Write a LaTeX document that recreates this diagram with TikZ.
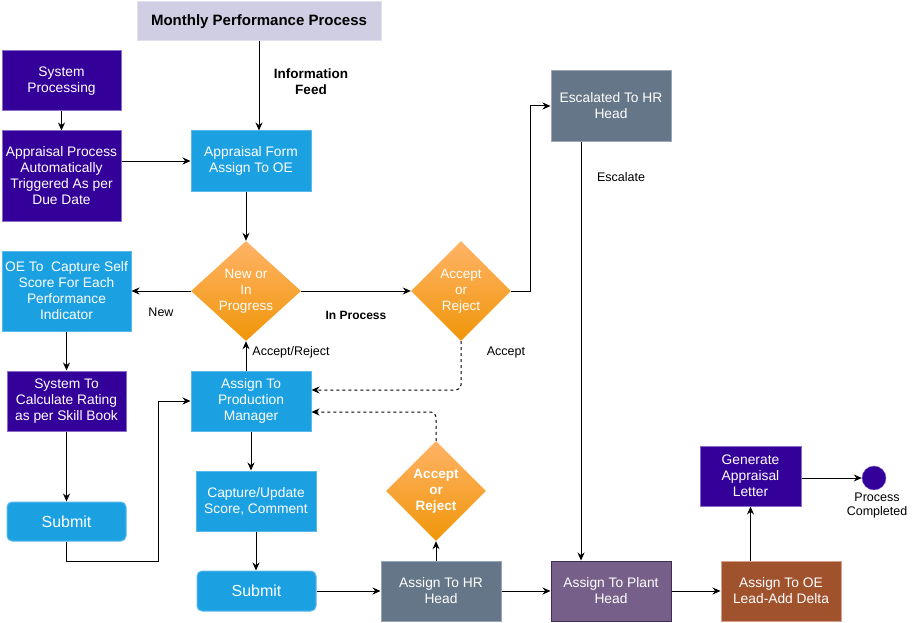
\documentclass[tikz,border=0pt]{standalone}
\usepackage{fontspec}
\setmainfont{Liberation Sans}
\usepackage{tikz}
\usetikzlibrary{shapes.geometric,arrows.meta}

\definecolor{indigoFill}{HTML}{330099}
\definecolor{indigoLine}{HTML}{8A6BC9}
\definecolor{blueFill}{HTML}{1BA1E2}
\definecolor{blueLine}{HTML}{5BB8EA}
\definecolor{slateFill}{HTML}{647687}
\definecolor{slateLine}{HTML}{9AA6B3}
\definecolor{plumFill}{HTML}{76608A}
\definecolor{plumLine}{HTML}{432D57}
\definecolor{siennaFill}{HTML}{A0522D}
\definecolor{siennaLine}{HTML}{D8A08C}
\definecolor{lilacFill}{HTML}{D0CEE2}
\definecolor{lilacLine}{HTML}{E2E0EE}
\definecolor{orangeTop}{HTML}{FFB366}
\definecolor{orangeBot}{HTML}{F09609}

\tikzset{
  box/.style={draw, line width=1pt, inner sep=0pt, align=center, text=white,
    font=\fontsize{13.8}{16}\selectfont},
  indigobox/.style={box, fill=indigoFill, draw=indigoLine},
  bluebox/.style={box, fill=blueFill, draw=blueLine},
  slatebox/.style={box, fill=slateFill, draw=slateLine},
  submitbox/.style={bluebox, rounded corners=5pt, font=\fontsize{16}{19}\selectfont},
  decision/.style={diamond, inner sep=0pt, minimum width=100pt, minimum height=100pt,
    top color=orangeTop, bottom color=orangeBot, draw=none, align=center, text=white,
    font=\fontsize{13.5}{16}\selectfont},
  edgelabel/.style={font=\fontsize{12.5}{15}\selectfont, align=center},
  flow/.style={draw, line width=1pt, -{Stealth[length=8pt,width=7pt]}},
}

\begin{document}
\begin{tikzpicture}[x=1pt, y=-1pt]
  \useasboundingbox (0,0) rectangle (915,623);

  % top row
  \node[box, fill=lilacFill, draw=lilacLine, text=black, minimum width=244pt, minimum height=39pt,
    font=\bfseries\fontsize{15}{18}\selectfont] (mpp) at (259,21.5) {Monthly Performance Process};
  \node[indigobox, minimum width=119pt, minimum height=60pt] (sp) at (61.5,81) {System\\Processing};
  \node[indigobox, minimum width=119pt, minimum height=90pt] (apt) at (61.5,176) {Appraisal Process\\Automatically\\Triggered As per\\Due Date};
  \node[bluebox, minimum width=120pt, minimum height=60pt] (af) at (251,161) {Appraisal Form\\Assign To OE};
  \node[slatebox, minimum width=120pt, minimum height=70pt] (esc) at (611,106) {Escalated To HR\\Head};

  % decisions
  \node[decision, minimum width=110pt] (nip) at (246,291) {New or\\In\\Progress};
  \node[decision] (ar1) at (461,291) {Accept\\or\\Reject};
  \node[decision, font=\bfseries\fontsize{13.5}{16}\selectfont] (ar2) at (436,491) {Accept\\or\\Reject};

  % left column
  \node[bluebox, minimum width=129pt, minimum height=80pt] (oe) at (66.5,291) {OE To~ Capture Self\\Score For Each\\Performance\\Indicator};
  \node[indigobox, minimum width=119pt, minimum height=60pt] (calc) at (66.5,401) {System To\\Calculate Rating\\as per Skill Book};
  \node[submitbox, minimum width=119pt, minimum height=39pt] (s1) at (66.5,521.5) {Submit};

  % middle column
  \node[bluebox, minimum width=120pt, minimum height=60pt] (pm) at (251,401) {Assign To\\Production\\Manager};
  \node[bluebox, minimum width=120pt, minimum height=60pt] (cap) at (256,501) {Capture/Update\\Score, Comment};
  \node[submitbox, minimum width=119pt, minimum height=40pt] (s2) at (256.5,591) {Submit};

  % bottom row
  \node[slatebox, minimum width=120pt, minimum height=60pt] (hr) at (441,591) {Assign To HR\\Head};
  \node[box, fill=plumFill, draw=plumLine, minimum width=120pt, minimum height=60pt] (plant) at (611,591) {Assign To Plant\\Head};
  \node[box, fill=siennaFill, draw=siennaLine, minimum width=120pt, minimum height=60pt] (lead) at (781,591) {Assign To OE\\Lead-Add Delta};
  \node[indigobox, minimum width=101pt, minimum height=60pt] (gen) at (750.5,476) {Generate\\Appraisal\\Letter};
  \node[circle, fill=indigoFill, draw=indigoLine, minimum size=24pt, inner sep=0pt] (done) at (874,478) {};
  \node[edgelabel, font=\fontsize{12.5}{14}\selectfont, below=-1pt] (donelbl) at ([xshift=3pt]done.south) {Process\\Completed};

  % connectors
  \draw[flow] (mpp.south) -- (mpp.south |- af.north);
  \draw[flow] (sp.south) -- (apt.north);
  \draw[flow] (apt.east |- af.west) -- (af.west);
  \draw[flow] (nip.north |- af.south) -- (nip.north);
  \draw[flow] (nip.west) -- (oe.east);
  \draw[flow] (nip.east) -- (ar1.west);
  \draw[flow] (ar1.east) -- ++(19,0) |- (esc.west);
  \draw[flow] ([xshift=-30pt]esc.south) -- ([xshift=-30pt]plant.north);
  \draw[flow, dashed, rounded corners=5pt] (ar1.south) |- ([yshift=11pt]pm.east);
  \draw[flow, dashed, rounded corners=5pt] (ar2.north) |- ([yshift=-11pt]pm.east);
  \draw[flow] (oe.south -| calc.north) -- (calc.north);
  \draw[flow] (calc.south) -- (s1.north);
  \draw[flow] (s1.south) -- ++(0,20) -| ([xshift=-32pt]pm.west) -- (pm.west);
  \draw[flow] (nip.south |- pm.north) -- (nip.south);
  \draw[flow] (pm.south) -- (pm.south |- cap.north);
  \draw[flow] (cap.south) -- (cap.south |- s2.north);
  \draw[flow] (s2.east) -- (hr.west);
  \draw[flow] (hr.north -| ar2.south) -- (ar2.south);
  \draw[flow] (hr.east) -- (plant.west);
  \draw[flow] (plant.east) -- (lead.west);
  \draw[flow] (lead.north -| gen.south) -- (gen.south);
  \draw[flow] (gen.east |- done.west) -- (done.west);

  % connector labels
  \node[edgelabel, font=\bfseries\fontsize{13.5}{16}\selectfont] (feedlbl) at (311,82) {Information\\Feed};
  \node[edgelabel] (newlbl) at (161,312) {New};
  \node[edgelabel, font=\bfseries\fontsize{12}{15}\selectfont] (proclbl) at (356,315) {In Process};
  \node[edgelabel] (esclbl) at (621,177) {Escalate};
  \node[edgelabel] (acclbl) at (506,352) {Accept};
  \node[edgelabel] (arlbl) at (291,352) {Accept/Reject};
\end{tikzpicture}
\end{document}
